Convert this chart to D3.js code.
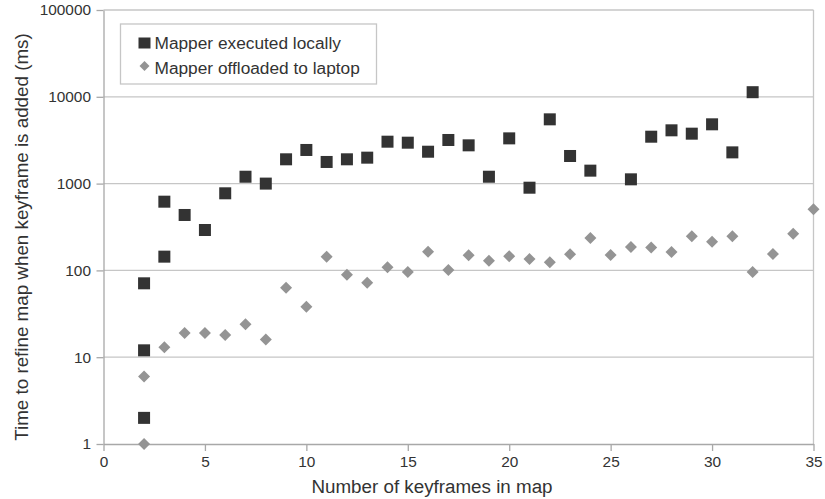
<!DOCTYPE html>
<html>
<head>
<meta charset="utf-8">
<script src="https://cdn.jsdelivr.net/npm/d3@7"></script>
<style>
  body { margin: 0; background: #fff; }
  svg text { font-family: "Liberation Sans", Arial, sans-serif; fill: #333; }
</style>
</head>
<body>
<div id="chart"></div>
<script>
// keyframes in map, time in ms (log scale)
var localX = [2, 2, 2, 3, 3, 4, 5, 6, 7, 8, 9, 10, 11, 12, 13, 14, 15, 16, 17, 18, 19, 20, 21, 22, 23, 24, 26, 27, 28, 29, 30, 31, 32];
var localY = [71, 12, 2, 144, 619, 435, 292, 773, 1200, 1000, 1905, 2440, 1775, 1905, 1990, 3040, 2960, 2330, 3180, 2760, 1200, 3320, 897, 5500, 2080, 1410, 1120, 3470, 4110, 3760, 4820, 2290, 11300];

var offX = [2, 2, 3, 4, 5, 6, 7, 8, 9, 10, 11, 12, 13, 14, 15, 16, 17, 18, 19, 20, 21, 22, 23, 24, 25, 26, 27, 28, 29, 30, 31, 32, 33, 34, 35];
var offY = [1, 6, 13, 19, 19, 18, 24, 16, 63, 38, 144, 89, 72, 109, 96, 164, 101, 149, 129, 146, 135, 124, 153, 236, 150, 186, 183, 163, 247, 214, 247, 96, 154, 265, 506];

var xTicks = [0, 5, 10, 15, 20, 25, 30, 35];
var yTicks = [1, 10, 100, 1000, 10000, 100000];

var legendLabels = ["Mapper executed locally", "Mapper offloaded to laptop"];

var width = 825, height = 499;
var margin = { left: 103.5, right: 11.5, top: 10, bottom: 55 };

var svg = d3.select("#chart").append("svg")
    .attr("width", width)
    .attr("height", height);

var x = d3.scaleLinear().domain([0, 35]).range([margin.left, width - margin.right]);
var y = d3.scaleLog().domain([1, 100000]).range([height - margin.bottom, margin.top]);

// gridlines
svg.append("g").selectAll("line")
  .data(yTicks.slice(1))
  .enter().append("line")
    .attr("x1", x(0)).attr("x2", x(35))
    .attr("y1", function(d) { return y(d); })
    .attr("y2", function(d) { return y(d); })
    .attr("stroke", "#c6c6c6")
    .attr("stroke-width", 1.3);

// right border
svg.append("line")
  .attr("x1", x(35)).attr("x2", x(35))
  .attr("y1", y(100000)).attr("y2", y(1))
  .attr("stroke", "#c6c6c6").attr("stroke-width", 1.3);

var xAxis = svg.append("g")
  .attr("transform", "translate(0," + y(1) + ")")
  .call(d3.axisBottom(x).tickValues(xTicks).tickSize(7).tickPadding(5).tickSizeOuter(0));

var yAxis = svg.append("g")
  .attr("transform", "translate(" + x(0) + ",0)")
  .call(d3.axisLeft(y).tickValues(yTicks).tickFormat(d3.format("d")).tickSize(7).tickPadding(5.5).tickSizeOuter(0));

[xAxis, yAxis].forEach(function(a) {
  a.select(".domain").attr("stroke", "#a8a8a8").attr("stroke-width", 1.3);
  a.selectAll(".tick line").attr("stroke", "#a8a8a8").attr("stroke-width", 1.3);
  a.selectAll("text").attr("font-size", 15.4).attr("fill", "#333")
    .style("font-family", "'Liberation Sans', Arial, sans-serif");
});

// axis titles
svg.append("text")
  .attr("x", 432)
  .attr("y", 493)
  .attr("text-anchor", "middle")
  .attr("font-size", 18.8)
  .text("Number of keyframes in map");

svg.append("text")
  .attr("transform", "translate(27.5,237) rotate(-90)")
  .attr("text-anchor", "middle")
  .attr("font-size", 18.8)
  .text("Time to refine map when keyframe is added (ms)");

// series
var sq = 12;
svg.append("g").selectAll("rect")
  .data(localX.map(function(d, i) { return [d, localY[i]]; }))
  .enter().append("rect")
    .attr("x", function(d) { return x(d[0]) - sq / 2; })
    .attr("y", function(d) { return y(d[1]) - sq / 2; })
    .attr("width", sq).attr("height", sq)
    .attr("fill", "#333333");

var diamond = d3.symbol().type(d3.symbolSquare).size(72);
svg.append("g").selectAll("path")
  .data(offX.map(function(d, i) { return [d, offY[i]]; }))
  .enter().append("path")
    .attr("d", diamond)
    .attr("transform", function(d) { return "translate(" + x(d[0]) + "," + y(d[1]) + ") rotate(45)"; })
    .attr("fill", "#949494");

// legend
var lg = svg.append("g").attr("transform", "translate(120.5,24)");
lg.append("rect")
  .attr("width", 256).attr("height", 60)
  .attr("fill", "#fff").attr("stroke", "#c6c6c6").attr("stroke-width", 1.3);
lg.append("rect")
  .attr("x", 18).attr("y", 13.5).attr("width", 12).attr("height", 11)
  .attr("fill", "#333333");
lg.append("path")
  .attr("d", d3.symbol().type(d3.symbolSquare).size(50))
  .attr("transform", "translate(24,42) rotate(45)")
  .attr("fill", "#949494");
lg.selectAll("text.lab")
  .data(legendLabels)
  .enter().append("text")
    .attr("class", "lab")
    .attr("x", 34)
    .attr("y", function(d, i) { return 24.5 + i * 25; })
    .attr("font-size", 17.3)
    .text(function(d) { return d; });
</script>
</body>
</html>
